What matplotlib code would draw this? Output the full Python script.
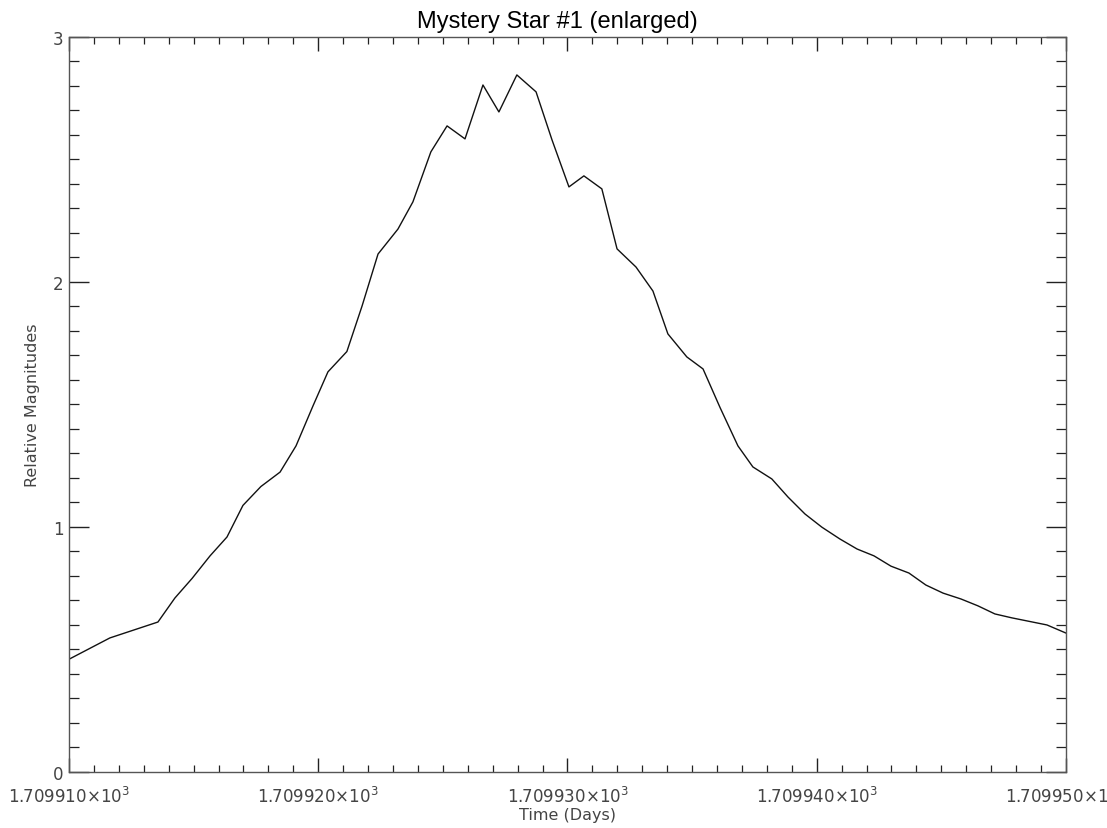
import matplotlib
matplotlib.use("Agg")
from matplotlib import pyplot as plt
from matplotlib.ticker import MultipleLocator

# light curve samples (time in days, relative magnitude)
days = [1709.91000, 1709.91164, 1709.91357, 1709.91425, 1709.91494, 1709.91566,
        1709.91634, 1709.91698, 1709.91770, 1709.91847, 1709.91911, 1709.91979,
        1709.92039, 1709.92115, 1709.92176, 1709.92240, 1709.92320, 1709.92380,
        1709.92452, 1709.92517, 1709.92589, 1709.92661, 1709.92725, 1709.92797,
        1709.92874, 1709.92938, 1709.93006, 1709.93066, 1709.93138, 1709.93199,
        1709.93275, 1709.93343, 1709.93403, 1709.93479, 1709.93544, 1709.93612,
        1709.93684, 1709.93744, 1709.93820, 1709.93885, 1709.93953, 1709.94021,
        1709.94093, 1709.94162, 1709.94230, 1709.94298, 1709.94370, 1709.94438,
        1709.94507, 1709.94579, 1709.94647, 1709.94715, 1709.94783, 1709.94856,
        1709.94924, 1709.95000]
mags = [0.460, 0.547, 0.612, 0.710, 0.790, 0.882,
        0.959, 1.088, 1.165, 1.224, 1.331, 1.494,
        1.633, 1.716, 1.902, 2.114, 2.216, 2.327,
        2.531, 2.637, 2.584, 2.804, 2.694, 2.845,
        2.776, 2.580, 2.388, 2.433, 2.380, 2.135,
        2.061, 1.963, 1.788, 1.694, 1.645, 1.488,
        1.331, 1.245, 1.196, 1.122, 1.053, 0.999,
        0.951, 0.910, 0.882, 0.840, 0.812, 0.763,
        0.730, 0.706, 0.678, 0.645, 0.629, 0.614,
        0.600, 0.567]

xticks = [1709.910, 1709.920, 1709.930, 1709.940, 1709.950]
xtick_labels = [r"1.709910$\times$10$^3$", r"1.709920$\times$10$^3$",
                r"1.709930$\times$10$^3$", r"1.709940$\times$10$^3$",
                r"1.709950$\times$10$^3$"]
yticks = [0, 1, 2, 3]
ytick_labels = ["0", "1", "2", "3"]

plt.rcParams["font.family"] = ["DejaVu Sans"]
plt.rcParams["mathtext.fontset"] = "dejavusans"

fig = plt.figure(figsize=(11.07, 8.29), dpi=100)
ax = fig.add_axes([0.0623, 0.0676, 0.9006, 0.8866])

ax.plot(days, mags, color="#111111", linewidth=1.0)

ax.set_xlim(1709.910, 1709.950)
ax.set_ylim(0, 3)

ax.set_xticks(xticks, labels=xtick_labels)
ax.set_yticks(yticks, labels=ytick_labels)
ax.xaxis.set_minor_locator(MultipleLocator(0.001))
ax.yaxis.set_minor_locator(MultipleLocator(0.1))

for s in ax.spines.values():
    s.set_color("#555555")
    s.set_linewidth(1.0)

ax.tick_params(axis="both", which="both", direction="in", top=True, right=True,
               colors="#222222", labelcolor="#444444", labelsize=12)
ax.tick_params(axis="x", which="major", length=10, width=1.0, pad=10)
ax.tick_params(axis="x", which="minor", length=5, width=0.9)
ax.tick_params(axis="y", which="major", length=14.4, width=1.0, pad=4)
ax.tick_params(axis="y", which="minor", length=7.2, width=0.9)

ax.set_title("Mystery Star #1 (enlarged)", fontsize=17, pad=7, x=0.49,
             family="Liberation Sans")
ax.set_xlabel("Time (Days)", fontsize=11.5, color="#444444", labelpad=1)
ax.set_ylabel("Relative Magnitudes", fontsize=11.5, color="#444444", labelpad=9)

fig.savefig("out.png", dpi=100)
